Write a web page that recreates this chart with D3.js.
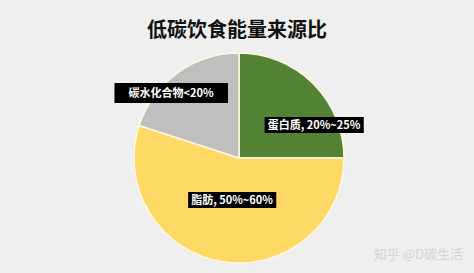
<!DOCTYPE html>
<html>
<head>
<meta charset="utf-8">
<script src="https://cdn.jsdelivr.net/npm/d3@7"></script>
<style>
  body { margin: 0; background: #efefef; }
  svg { display: block; font-family: "Noto Sans CJK SC", "Noto Sans", sans-serif; }
</style>
</head>
<body>
<div id="chart"></div>
<script>
// data
const categories = ["蛋白质", "脂肪", "碳水化合物"];
const values = [25, 55, 20];
const labels = ["蛋白质, 20%~25%", "脂肪, 50%~60%", "碳水化合物<20%"];
const colors = ["#548235", "#ffd966", "#bfbfbf"];

const width = 474, height = 273;
const cx = 239, cy = 158, r = 105;

const svg = d3.select("#chart").append("svg")
  .attr("width", width)
  .attr("height", height);

svg.append("rect")
  .attr("width", width).attr("height", height)
  .attr("fill", "#efefef");

svg.append("text")
  .attr("x", 237).attr("y", 37)
  .attr("text-anchor", "middle")
  .attr("font-size", 20)
  .attr("font-weight", "bold")
  .attr("fill", "#111")
  .text("低碳饮食能量来源比");

const pie = d3.pie().sort(null).value(d => d)(values);
const arc = d3.arc().innerRadius(0).outerRadius(r);

const g = svg.append("g").attr("transform", `translate(${cx},${cy})`);

g.selectAll("path")
  .data(pie)
  .enter()
  .append("path")
  .attr("d", arc)
  .attr("fill", (d, i) => colors[i])
  .attr("stroke", "#fff8e0")
  .attr("stroke-width", 1.5);

// label positions (relative to centre), box padding per label
const labelPos = [[75, -33], [-7, 42], [-68, -65]];
const padX = [3, 3, 14];

labels.forEach((t, i) => {
  const lg = g.append("g").attr("transform", `translate(${labelPos[i][0]},${labelPos[i][1]})`);
  const txt = lg.append("text")
    .attr("text-anchor", "middle")
    .attr("dy", "0.36em")
    .attr("font-size", 11)
    .attr("font-weight", "bold")
    .attr("fill", "#fff")
    .text(t);
  const b = txt.node().getBBox();
  lg.insert("rect", "text")
    .attr("x", b.x - padX[i])
    .attr("y", i === 2 ? -10 : -8)
    .attr("width", b.width + padX[i] * 2)
    .attr("height", i === 2 ? 20 : 16)
    .attr("fill", "#000");
});

svg.append("text")
  .attr("x", 463).attr("y", 259)
  .attr("text-anchor", "end")
  .attr("font-size", 13)
  .attr("fill", "#d4d4d4")
  .text("知乎 @D碳生活");
</script>
</body>
</html>
